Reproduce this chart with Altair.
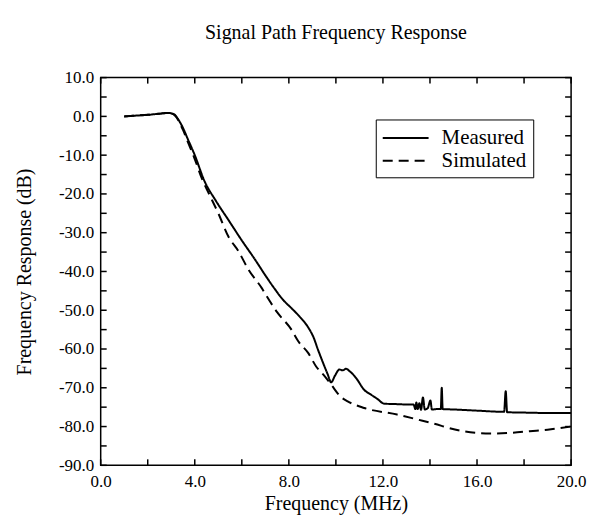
import altair as alt
import pandas as pd

# ---- data ----
meas_f = [1.0, 1.5, 2.0, 2.5, 2.85, 3.1, 3.3, 3.5, 3.7, 4.0, 4.4, 4.9, 5.44, 6.0, 6.57,
          7.0, 7.4, 7.75, 8.1, 8.45, 8.82, 9.05, 9.24, 9.45, 9.65, 9.8, 9.95, 10.15, 10.3,
          10.43, 10.6, 10.86, 11.2, 11.5, 11.77, 12.05, 12.5, 13.0, 13.3, 13.38, 13.42,
          13.48, 13.55, 13.62, 13.7, 13.78, 13.9, 14.02, 14.08, 14.3, 14.46, 14.5, 14.54,
          15.0, 16.0, 17.15, 17.22, 17.28, 18.0, 19.0, 20.0]
meas_db = [0.0, 0.2, 0.4, 0.7, 0.9, 0.6, -0.8, -3.0, -5.8, -10.0, -16.5, -21.8, -26.8, -32.0, -37.0,
           -41.0, -44.5, -47.3, -49.4, -51.6, -54.4, -57.0, -60.2, -63.5, -66.5, -68.6, -67.0, -65.3, -65.5,
           -65.1, -65.8, -67.5, -70.5, -71.8, -72.9, -74.1, -74.2, -74.3, -74.3, -75.5, -73.8,
           -75.5, -74.0, -75.7, -72.5, -75.6, -75.3, -73.3, -75.6, -75.5, -75.5, -70.0, -75.5,
           -75.6, -75.9, -76.2, -70.9, -76.3, -76.4, -76.5, -76.5]

sim_f = [1.0, 1.5, 2.0, 2.5, 2.85, 3.1, 3.3, 3.5, 3.7, 4.0, 4.3, 4.6, 5.0, 5.44, 5.86,
         6.29, 6.85, 7.1, 7.5, 8.11, 8.4, 8.82, 9.16, 9.52, 9.8, 10.22, 10.5, 11.2,
         12.6, 14.0, 15.4, 16.55, 17.5, 18.24, 19.0, 20.0]
sim_db = [0.0, 0.2, 0.4, 0.7, 0.9, 0.5, -1.0, -3.5, -6.5, -11.0, -16.0, -19.9, -25.0, -31.1, -34.8,
          -39.6, -44.3, -46.8, -50.5, -55.0, -58.0, -61.0, -64.5, -67.0, -69.2, -72.4, -73.5, -75.2,
          -76.9, -79.0, -81.2, -81.8, -81.6, -81.2, -80.8, -80.0]

x_ticks = [0, 2, 4, 6, 8, 10, 12, 14, 16, 18, 20]
x_labels = [0, 4, 8, 12, 16, 20]
y_ticks = [-90, -85, -80, -75, -70, -65, -60, -55, -50, -45, -40, -35, -30, -25, -20,
           -15, -10, -5, 0, 5, 10]
y_labels = [-90, -80, -70, -60, -50, -40, -30, -20, -10, 0, 10]

series_names = ["Measured", "Simulated"]

# ---- tables ----
df = pd.concat([
    pd.DataFrame({"f": meas_f, "db": meas_db, "Series": series_names[0], "order": range(len(meas_f))}),
    pd.DataFrame({"f": sim_f, "db": sim_db, "Series": series_names[1], "order": range(len(sim_f))}),
])
xt = pd.DataFrame({"v": x_ticks})
yt = pd.DataFrame({"v": y_ticks})

W, H = 472, 389
FONT = "Liberation Serif"

xscale = alt.Scale(domain=[0, 20], nice=False, zero=False)
yscale = alt.Scale(domain=[-90, 10], nice=False, zero=False)

lbl = "replace(format(datum.value, '.1f'), '\u2212', '-')"


def x_axis():
    return alt.Axis(values=x_labels, labelExpr=lbl, title="Frequency (MHz)",
                    ticks=False, domain=False, grid=False, labelPadding=8,
                    labelFontSize=17, titleFontSize=20, titlePadding=4,
                    labelFlush=False, labelOverlap=False)


def y_axis():
    return alt.Axis(values=y_labels, labelExpr=lbl, title="Frequency Response (dB)",
                    ticks=False, domain=False, grid=False, labelPadding=7,
                    labelFontSize=17, titleFontSize=20, titlePadding=24,
                    labelFlush=False, labelOverlap=False)


lines = alt.Chart(df).mark_line(strokeWidth=2, clip=True, interpolate="monotone").encode(
    x=alt.X("f:Q", scale=xscale, axis=x_axis()),
    y=alt.Y("db:Q", scale=yscale, axis=y_axis()),
    color=alt.Color("Series:N", scale=alt.Scale(domain=series_names, range=["black", "black"]),
                    legend=alt.Legend(title=None)),
    strokeDash=alt.StrokeDash("Series:N",
                              scale=alt.Scale(domain=series_names, range=[[1, 0], [10, 6]]),
                              legend=alt.Legend(title=None)),
    order="order:Q",
)

tick_len = 6
top_ticks = alt.Chart(xt).mark_rule(color="black", strokeWidth=1.5).encode(
    x=alt.X("v:Q", scale=xscale, axis=x_axis()), y=alt.value(0), y2=alt.value(tick_len))
bot_ticks = alt.Chart(xt).mark_rule(color="black", strokeWidth=1.5).encode(
    x=alt.X("v:Q", scale=xscale, axis=x_axis()), y=alt.value(H), y2=alt.value(H - tick_len))
left_ticks = alt.Chart(yt).mark_rule(color="black", strokeWidth=1.5).encode(
    y=alt.Y("v:Q", scale=yscale, axis=y_axis()), x=alt.value(0), x2=alt.value(tick_len))
right_ticks = alt.Chart(yt).mark_rule(color="black", strokeWidth=1.5).encode(
    y=alt.Y("v:Q", scale=yscale, axis=y_axis()), x=alt.value(W), x2=alt.value(W - tick_len))

chart = alt.layer(lines, top_ticks, bot_ticks, left_ticks, right_ticks).properties(
    width=W, height=H,
    autosize=alt.AutoSizeParams(type="none"),
    padding={"left": 93, "top": 69, "right": 30, "bottom": 50},
    title=alt.TitleParams("Signal Path Frequency Response", font=FONT, fontSize=20,
                          fontWeight="normal", anchor="middle", offset=26, color="black"),
).configure_view(
    stroke="black", strokeWidth=1.5
).configure_axis(
    labelFont=FONT, titleFont=FONT, labelColor="black", titleColor="black",
    titleFontWeight="normal", labelOverlap=False,
).configure_legend(
    orient="none", legendX=276, legendY=42,
    strokeColor="black", fillColor="white", padding=6,
    symbolType="M-1,0H3", symbolSize=529, symbolStrokeWidth=2, symbolStrokeColor="black",
    labelFont=FONT, labelFontSize=21, labelColor="black", labelOffset=35,
    rowPadding=0, cornerRadius=0,
)

chart.save("out.html", embed_options={"renderer": "svg", "actions": False})
